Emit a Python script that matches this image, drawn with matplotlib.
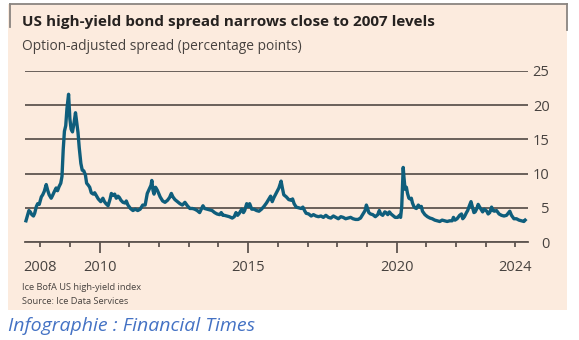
import matplotlib
matplotlib.use("Agg")
import matplotlib.pyplot as plt
import matplotlib.dates as mdates
import matplotlib.patches as mpatches
import matplotlib.lines as mlines
import pandas as pd

# ---------------- data ----------------
dates = [
    "2007-07-10", "2007-08-01", "2007-08-15", "2007-09-01", "2007-09-20", "2007-10-10", "2007-10-25",
    "2007-11-15", "2007-12-01", "2007-12-20",
    "2008-01-15", "2008-02-01", "2008-02-20", "2008-03-15", "2008-04-01", "2008-04-20", "2008-05-15",
    "2008-06-01", "2008-06-20", "2008-07-15", "2008-08-01", "2008-08-20", "2008-09-10", "2008-09-25",
    "2008-10-10", "2008-10-25", "2008-11-10", "2008-11-25", "2008-12-15", "2008-12-31",
    "2009-01-15", "2009-02-01", "2009-02-20", "2009-03-10", "2009-03-25", "2009-04-10", "2009-04-25",
    "2009-05-15", "2009-06-01", "2009-06-20", "2009-07-10", "2009-07-25", "2009-08-15", "2009-09-01",
    "2009-09-20", "2009-10-15", "2009-11-01", "2009-11-20", "2009-12-15",
    "2010-01-15", "2010-02-10", "2010-03-01", "2010-03-20", "2010-04-15", "2010-05-10", "2010-05-25",
    "2010-06-15", "2010-07-05", "2010-07-25", "2010-08-15", "2010-09-01", "2010-09-20", "2010-10-15",
    "2010-11-10", "2010-11-25", "2010-12-15",
    "2011-01-15", "2011-02-15", "2011-03-15", "2011-04-15", "2011-05-15", "2011-06-15", "2011-07-15",
    "2011-08-10", "2011-08-25", "2011-09-10", "2011-09-25", "2011-10-05", "2011-10-20", "2011-11-01",
    "2011-11-20", "2011-12-10", "2011-12-25",
    "2012-01-15", "2012-02-15", "2012-03-15", "2012-04-15", "2012-05-10", "2012-06-01", "2012-06-20",
    "2012-07-15", "2012-08-15", "2012-09-15", "2012-10-15", "2012-11-15", "2012-12-15",
    "2013-01-15", "2013-02-15", "2013-03-15", "2013-04-15", "2013-05-15", "2013-06-25", "2013-07-15",
    "2013-08-15", "2013-09-15", "2013-10-15", "2013-11-15", "2013-12-15",
    "2014-01-15", "2014-02-05", "2014-02-25", "2014-03-15", "2014-04-15", "2014-05-15", "2014-06-20",
    "2014-07-15", "2014-08-05", "2014-08-25", "2014-09-15", "2014-10-15", "2014-11-05", "2014-11-20",
    "2014-12-15",
    "2015-01-05", "2015-01-20", "2015-02-15", "2015-03-15", "2015-04-15", "2015-05-15", "2015-06-15",
    "2015-07-15", "2015-08-15", "2015-09-15", "2015-10-05", "2015-10-25", "2015-11-15", "2015-12-15",
    "2016-01-15", "2016-02-11", "2016-02-25", "2016-03-15", "2016-04-15", "2016-05-15", "2016-06-15",
    "2016-07-01", "2016-07-20", "2016-08-15", "2016-09-15", "2016-10-15", "2016-11-05", "2016-11-25",
    "2016-12-15",
    "2017-01-15", "2017-02-15", "2017-03-15", "2017-04-15", "2017-05-15", "2017-06-15", "2017-07-15",
    "2017-08-15", "2017-09-15", "2017-10-15", "2017-11-15", "2017-12-15",
    "2018-01-15", "2018-02-15", "2018-03-15", "2018-04-15", "2018-05-15", "2018-06-15", "2018-07-15",
    "2018-08-15", "2018-09-15", "2018-10-15", "2018-11-05", "2018-11-25", "2018-12-10", "2018-12-26",
    "2019-01-10", "2019-01-25", "2019-02-15", "2019-03-15", "2019-04-15", "2019-05-15", "2019-06-03",
    "2019-06-20", "2019-07-15", "2019-08-10", "2019-08-25", "2019-09-15", "2019-10-05", "2019-10-25",
    "2019-11-15", "2019-12-15",
    "2020-01-15", "2020-02-05", "2020-02-20", "2020-03-05", "2020-03-23", "2020-04-01", "2020-04-15",
    "2020-05-01", "2020-05-15", "2020-06-01", "2020-06-15", "2020-07-01", "2020-07-15", "2020-08-01",
    "2020-08-15", "2020-09-01", "2020-09-25", "2020-10-15", "2020-11-01", "2020-11-15", "2020-12-15",
    "2021-01-15", "2021-02-15", "2021-03-15", "2021-04-15", "2021-05-15", "2021-06-15", "2021-07-15",
    "2021-08-15", "2021-09-15", "2021-10-15", "2021-11-15", "2021-12-01", "2021-12-20",
    "2022-01-15", "2022-02-15", "2022-03-10", "2022-03-25", "2022-04-15", "2022-05-10", "2022-05-25",
    "2022-06-15", "2022-07-05", "2022-07-20", "2022-08-10", "2022-08-25", "2022-09-15", "2022-10-01",
    "2022-10-20", "2022-11-10", "2022-11-25", "2022-12-15",
    "2023-01-15", "2023-02-01", "2023-02-20", "2023-03-15", "2023-04-01", "2023-04-20", "2023-05-15",
    "2023-06-15", "2023-07-15", "2023-08-15", "2023-09-15", "2023-10-25", "2023-11-15", "2023-12-15",
    "2024-01-15", "2024-02-15", "2024-03-15", "2024-04-15", "2024-05-01",
]
spread = [
    3.1, 4.0, 4.6, 4.4, 4.0, 3.8, 4.2,
    5.2, 5.6, 5.5,
    6.6, 6.9, 7.4, 8.4, 7.6, 6.9, 6.4,
    6.8, 7.3, 7.9, 7.5, 8.1, 8.6, 9.6,
    13.5, 16.2, 17.0, 19.5, 21.6, 18.0,
    16.5, 16.1, 17.4, 18.9, 17.5, 16.0, 13.8,
    11.5, 10.5, 10.4, 9.8, 8.6, 8.3, 8.0,
    7.2, 7.0, 7.2, 6.8, 6.3,
    5.9, 6.4, 5.9, 5.6, 5.3, 6.3, 7.1,
    6.8, 7.0, 6.4, 6.7, 6.5, 6.1, 5.8,
    5.7, 6.0, 5.4,
    4.9, 4.6, 4.8, 4.6, 4.8, 5.4, 5.4,
    7.1, 7.5, 7.9, 8.3, 9.0, 7.5, 7.0,
    8.0, 7.6, 7.2,
    6.6, 6.0, 5.8, 6.1, 6.5, 7.1, 6.6,
    6.2, 5.9, 5.6, 5.4, 5.8, 5.3,
    4.9, 4.9, 4.8, 4.6, 4.3, 5.3, 4.9,
    4.8, 4.7, 4.6, 4.3, 4.1,
    4.0, 4.3, 3.9, 3.9, 3.8, 3.7, 3.5,
    3.7, 4.3, 3.9, 4.2, 4.8, 4.3, 4.6,
    5.6,
    5.2, 5.6, 4.8, 4.8, 4.6, 4.5, 4.8,
    5.2, 5.7, 6.3, 6.7, 5.9, 6.5, 7.2,
    7.9, 8.9, 8.0, 6.9, 6.6, 6.2, 6.1,
    6.3, 5.6, 5.1, 5.0, 4.9, 5.1, 4.6,
    4.2,
    4.1, 3.8, 4.0, 3.8, 3.7, 3.8, 3.6,
    3.9, 3.6, 3.5, 3.8, 3.6,
    3.4, 3.7, 3.6, 3.4, 3.5, 3.6, 3.4,
    3.3, 3.3, 3.5, 3.9, 4.3, 4.6, 5.4,
    4.9, 4.3, 4.1, 4.0, 3.7, 4.0, 4.6,
    4.1, 3.9, 4.4, 4.3, 4.0, 4.4, 4.1,
    3.9, 3.6,
    3.6, 3.9, 3.6, 5.2, 10.9, 9.5, 7.7,
    8.0, 7.1, 6.4, 6.3, 6.4, 5.7, 5.2,
    5.0, 4.9, 5.4, 5.1, 5.2, 4.5, 4.0,
    3.7, 3.5, 3.4, 3.2, 3.1, 3.0, 3.2,
    3.1, 3.0, 3.1, 3.1, 3.6, 3.2,
    3.4, 3.9, 4.1, 3.4, 3.7, 4.3, 4.6,
    5.3, 5.9, 5.2, 4.3, 4.4, 4.9, 5.5,
    5.1, 4.7, 4.4, 4.8,
    4.5, 4.1, 4.3, 5.1, 4.6, 4.5, 4.6,
    4.1, 3.9, 3.8, 3.9, 4.5, 3.9, 3.4,
    3.4, 3.2, 3.1, 3.0, 3.2,
]
y_ticks = [0, 5, 10, 15, 20, 25]
major_years = [2010, 2015, 2020]
minor_years = [2008, 2009, 2011, 2012, 2013, 2014, 2016, 2017, 2018, 2019, 2021, 2022, 2023, 2024]
labelled_minor = {2008: "2008", 2024: "2024"}

title = "US high-yield bond spread narrows close to 2007 levels"
subtitle = "Option-adjusted spread (percentage points)"
note1 = "Ice BofA US high-yield index"
note2 = "Source: Ice Data Services"
credit = "Infographie : Financial Times"

# ---------------- style ----------------
W, H = 579, 340
DPI = 100
BG = "#FCEBDE"
LINE = "#0F5E7C"
GRID = "#5E5550"
TXT = "#47423F"
FONT = "Open Sans"

plt.rcParams["font.family"] = [FONT, "DejaVu Sans"]

fig = plt.figure(figsize=(W / DPI, H / DPI), dpi=DPI)
fig.patch.set_facecolor("white")

def fx(px):
    return px / W

def fy(py):
    return 1 - py / H

# beige panel
fig.patches.append(mpatches.Rectangle((fx(8), fy(310)), fx(567) - fx(8), fy(4) - fy(310),
                                      transform=fig.transFigure, facecolor=BG, edgecolor="none", zorder=-5))
# partial frame at the top
for xs, ys in [([10, 567], [4, 4]), ([10, 10], [4, 27]), ([567, 567], [4, 30])]:
    fig.lines.append(mlines.Line2D([fx(x) for x in xs], [fy(y) for y in ys], transform=fig.transFigure,
                                   color="#8A8580", lw=1.3, zorder=-4))

ax = fig.add_axes([fx(25), fy(242), fx(528) - fx(25), fy(71) - fy(242)])
ax.set_facecolor("none")
ax.set_zorder(2)

x = pd.to_datetime(dates)
ax.plot(x, spread, color=LINE, lw=2.4, solid_joinstyle="round", zorder=3, clip_on=False)

ax.set_ylim(0, 25)
ax.set_xlim(mdates.date2num(pd.Timestamp("2007-06-28")), mdates.date2num(pd.Timestamp("2024-06-05")))

ax.set_yticks(y_ticks)
ax.yaxis.tick_right()
ax.tick_params(axis="y", length=0, pad=15.5, labelsize=10.5, labelcolor=TXT)
for lbl in ax.get_yticklabels():
    lbl.set_horizontalalignment("right")
ax.grid(axis="y", color=GRID, lw=1.3, zorder=1)
ax.set_axisbelow(True)

maj = [mdates.date2num(pd.Timestamp(f"{yr}-01-01")) for yr in major_years]
mnr = [mdates.date2num(pd.Timestamp(f"{yr}-01-01")) for yr in minor_years]
ax.set_xticks(maj)
ax.set_xticklabels([str(yr) for yr in major_years])
ax.set_xticks(mnr, minor=True)
ax.set_xticklabels([labelled_minor.get(yr, "") for yr in minor_years], minor=True)
ax.tick_params(axis="x", which="major", length=8, width=1.3, color=GRID, pad=5,
               labelsize=10.5, labelcolor=TXT)
ax.tick_params(axis="x", which="minor", length=3.5, width=1.3, color=GRID, pad=9.5,
               labelsize=10.5, labelcolor=TXT)

for s in ["top", "right", "left"]:
    ax.spines[s].set_visible(False)
ax.spines["bottom"].set_color(GRID)
ax.spines["bottom"].set_linewidth(1.3)

fig.text(fx(22), fy(22), title, fontsize=11.0, fontweight="bold", color="#262220", va="center", ha="left")
fig.text(fx(22), fy(46), subtitle, fontsize=9.9, color=TXT, va="center", ha="left")
fig.text(fx(22), fy(288), note1, fontsize=6.7, color=TXT, va="center", ha="left")
fig.text(fx(22), fy(301), note2, fontsize=6.7, color=TXT, va="center", ha="left")
fig.text(fx(8), fy(326), credit, fontsize=14, color="#4472C4", style="italic", va="center", ha="left")

fig.savefig("out.png", dpi=DPI, facecolor="white")
